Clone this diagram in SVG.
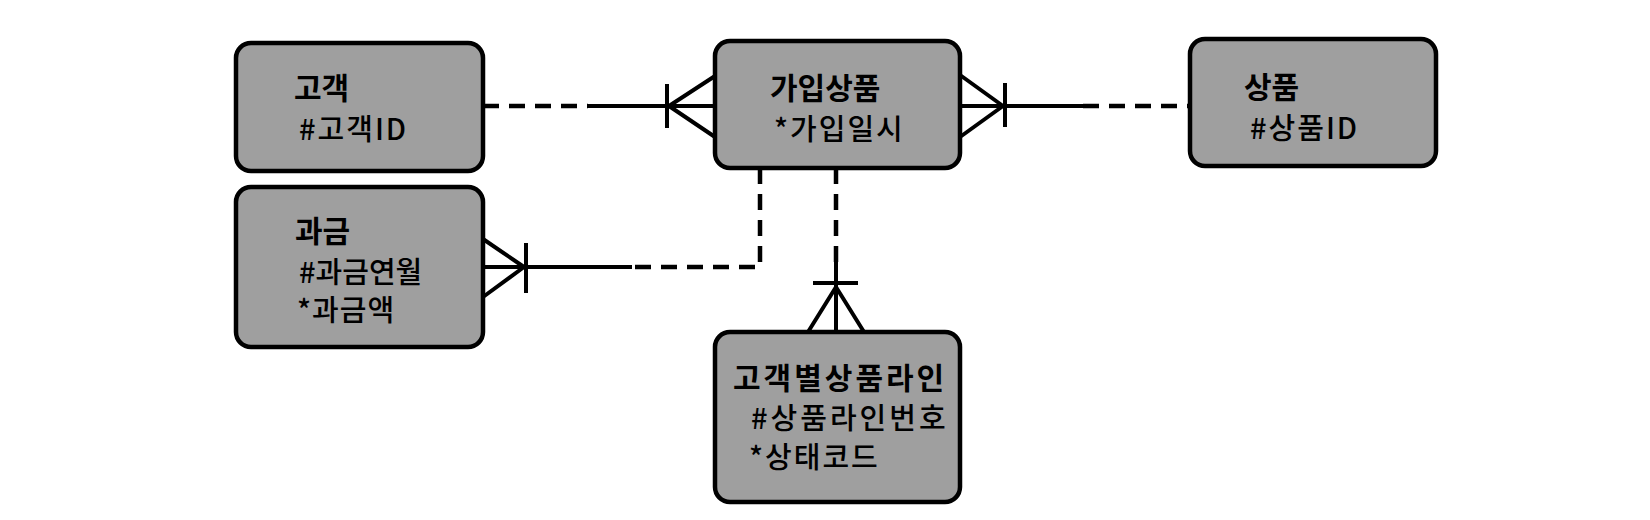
<svg xmlns="http://www.w3.org/2000/svg" width="1650" height="520" viewBox="0 0 1650 520">
<style>
.box{fill:#9f9f9f;stroke:#000;stroke-width:4.5}
.t{font-family:"Noto Sans CJK KR","Noto Sans",sans-serif;font-size:30px;font-weight:bold;fill:#000}
.a{font-family:"Noto Sans CJK KR","Noto Sans",sans-serif;font-size:29px;font-weight:500;fill:#000;letter-spacing:2px}
.wide{letter-spacing:3px}
.ln{fill:none;stroke:#000;stroke-width:4}
.dash{fill:none;stroke:#000;stroke-width:4.5;stroke-dasharray:16 10}
</style>
<rect width="1650" height="520" fill="#fff"/>
<g id="connectors">
  <!-- 고객 - 가입상품 -->
  <path class="dash" d="M483,106 H588"/>
  <path class="ln" d="M588,106 H715"/>
  <path class="ln" d="M667,84 V128 M669,106 L715,76 M669,106 L715,137"/>
  <!-- 가입상품 - 상품 -->
  <path class="ln" d="M960,106 H1083"/>
  <path class="dash" d="M1083,106 H1190"/>
  <path class="ln" d="M1005,83 V127 M1003,106 L960,75 M1003,106 L960,137"/>
  <!-- 가입상품 - 과금 -->
  <path class="dash" d="M760,168 V267 H632"/>
  <path class="ln" d="M632,267 H483"/>
  <path class="ln" d="M526,243 V293 M524,267 L483,239 M524,267 L483,297"/>
  <!-- 가입상품 - 고객별상품라인 -->
  <path class="dash" d="M836,168 V262"/>
  <path class="ln" d="M836,262 V332"/>
  <path class="ln" d="M813,283 H858 M836,287 L808,332 M836,287 L864,332"/>
</g>
<g id="node-customer">
  <rect class="box" x="236" y="43" width="247" height="128" rx="15"/>
  <text class="t" x="294" y="99">고객</text>
  <text class="a" x="299" y="140">#고객ID</text>
</g>
<g id="node-subscription">
  <rect class="box" x="715" y="41" width="245" height="127" rx="15"/>
  <text class="t" x="770" y="99">가입상품</text>
  <text class="a" x="774" y="140">*가입일시</text>
</g>
<g id="node-product">
  <rect class="box" x="1190" y="39" width="246" height="127" rx="15"/>
  <text class="t" x="1244" y="98">상품</text>
  <text class="a" x="1250" y="139">#상품ID</text>
</g>
<g id="node-billing">
  <rect class="box" x="236" y="187" width="247" height="160" rx="15"/>
  <text class="t" x="295" y="242">과금</text>
  <text class="a" x="299" y="283" style="letter-spacing:0px">#과금연월</text>
  <text class="a" x="297" y="321" style="letter-spacing:1px">*과금액</text>
</g>
<g id="node-customer-product-line">
  <rect class="box" x="715" y="332" width="245" height="170" rx="15"/>
  <text class="t wide" x="733" y="389">고객별상품라인</text>
  <text class="a wide" x="751" y="429">#상품라인번호</text>
  <text class="a" x="749" y="468">*상태코드</text>
</g>
</svg>
